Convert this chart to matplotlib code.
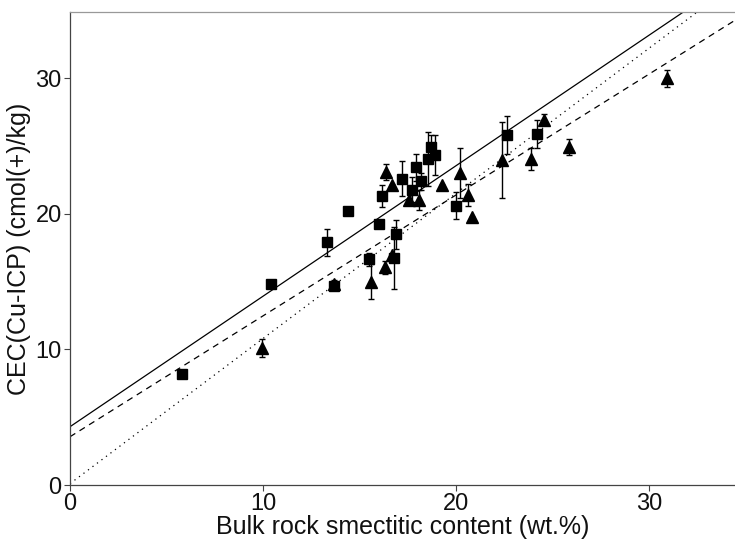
import matplotlib
matplotlib.use("Agg")
import matplotlib.pyplot as plt
import numpy as np

plt.rcParams['font.family'] = ['Liberation Sans', 'DejaVu Sans']

# Squares series
sq_x = [5.8, 10.4, 13.3, 13.7, 14.4, 15.5, 16.0, 16.15, 16.8, 16.9, 17.2, 17.7,
        17.95, 18.2, 18.57, 18.7, 18.9, 20.0, 22.65, 24.2]
sq_y = [8.2, 14.8, 17.9, 14.7, 20.2, 16.65, 19.25, 21.3, 16.75, 18.5, 22.6, 21.8,
        23.45, 22.4, 24.05, 24.95, 24.35, 20.6, 25.85, 25.9]
sq_err = [0, 0, 1.0, 0, 0, 0.5, 0, 0.8, 2.3, 1.05, 1.3, 0.9,
          1.0, 0.6, 2.0, 0.9, 1.45, 1.0, 1.4, 1.0]

# Triangles series
tr_x = [9.95, 13.7, 15.6, 16.3, 16.7, 16.35, 16.7, 17.55, 18.1, 19.25, 20.2, 20.6,
        20.8, 22.4, 23.9, 24.55, 25.85, 30.95]
tr_y = [10.1, 14.85, 15.0, 16.05, 17.0, 23.1, 22.1, 21.05, 21.05, 22.1, 23.0, 21.4,
        19.75, 24.0, 24.05, 26.95, 24.95, 30.0]
tr_err = [0.65, 0.3, 1.3, 0.45, 0, 0.6, 0, 0, 0.75, 0, 1.85, 0.8,
          0, 2.8, 0.8, 0.4, 0.6, 0.6]

# Regression lines (intercept, slope)
fit_solid = (4.3, 0.963)
fit_dashed = (3.56, 0.892)
fit_dotted = (0.1, 1.071)

xlim = (0, 34.45)
ylim = (0, 34.9)

fig = plt.figure(figsize=(7.35, 5.42), dpi=100)
ax = fig.add_axes([70/735, 57/542, 665/735, 473/542])

xx = np.array(xlim)
ax.plot(xx, fit_solid[0] + fit_solid[1]*xx, color='black', lw=0.9, ls='-')
ax.plot(xx, fit_dashed[0] + fit_dashed[1]*xx, color='black', lw=0.9, ls=(0, (5, 4)))
ax.plot(xx, fit_dotted[0] + fit_dotted[1]*xx, color='black', lw=0.9, ls=(0, (1, 3.5)))

ax.errorbar(sq_x, sq_y, yerr=sq_err, fmt='s', color='black', ms=7.8,
            capsize=2.5, elinewidth=1.0, capthick=1.0, zorder=3)
ax.errorbar(tr_x, tr_y, yerr=tr_err, fmt='^', color='black', ms=8.5,
            capsize=2.5, elinewidth=1.0, capthick=1.0, zorder=3)

ax.set_xlim(*xlim)
ax.set_ylim(*ylim)
ax.set_xticks([0, 10, 20, 30])
ax.set_yticks([0, 10, 20, 30])
ax.tick_params(axis='both', labelsize=17, length=4, width=0.8, color='#444',
               labelcolor='#111', pad=2)
for s in ['left', 'bottom']:
    ax.spines[s].set_color('#444')
    ax.spines[s].set_linewidth(0.9)
ax.spines['top'].set_color('#999')
ax.spines['top'].set_linewidth(0.9)
ax.spines['right'].set_visible(False)

ax.set_xlabel('Bulk rock smectitic content (wt.%)', fontsize=18, color='#111', labelpad=0)
ax.set_ylabel('CEC(Cu-ICP) (cmol(+)/kg)', fontsize=18, color='#111', labelpad=3)

fig.savefig('out.png', dpi=100)
